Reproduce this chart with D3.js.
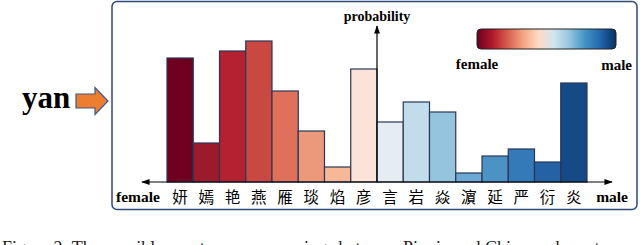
<!DOCTYPE html>
<html>
<head>
<meta charset="utf-8">
<script src="https://cdn.jsdelivr.net/npm/d3@7"></script>
<style>
  body { margin: 0; background: #fff; }
  svg { display: block; }
  .serif { font-family: "Liberation Serif", "DejaVu Serif", serif; }
  .cjk { font-family: "Noto Sans CJK SC", sans-serif; }
</style>
</head>
<body>
<div id="chart"></div>
<script>
// characters for pinyin "yan", female -> male
var chars = ["妍","嫣","艳","燕","雁","琰","焰","彦","言","岩","焱","濵","延","严","衍","炎"];
var probs = [124, 39, 131, 141, 91, 51, 15, 113, 60, 80, 70, 9, 26, 33, 20, 99];
var colors = ["#6f0020","#9b1b2d","#b52131","#c94842","#e0705a","#ec987a","#f6b896","#fce3d7",
              "#e6edf2","#c1dcea","#94c4de","#6ba9d2","#4c93c5","#3479b8","#2462a5","#144a86"];
var legendStops = ["#67001f","#b2182b","#d6604d","#f4a582","#fddbc7","#d1e5f0","#92c5de","#4393c3","#2166ac","#053061"];

var W = 640, H = 245;
var svg = d3.select("#chart").append("svg").attr("width", W).attr("height", H);

var defs = svg.append("defs");
var marker = function(id){
  defs.append("marker").attr("id", id).attr("viewBox","0 0 10 10").attr("refX",9).attr("refY",5)
    .attr("markerWidth",7).attr("markerHeight",7).attr("orient","auto-start-reverse")
    .append("path").attr("d","M0,1.5 L10,5 L0,8.5 Z").attr("fill","#000");
};
marker("arr");

// frame
svg.append("rect").attr("x",112).attr("y",1.5).attr("width",525).attr("height",208)
  .attr("rx",5).attr("fill","none").attr("stroke","#2c4a78").attr("stroke-width",1.5);

var baseY = 182;
var x = d3.scaleBand().domain(chars).range([167, 587]).padding(0);
var y = d3.scaleLinear().domain([0, 150]).range([baseY, baseY - 150]);

svg.append("g").selectAll("rect").data(chars).enter().append("rect")
  .attr("x", function(d){ return x(d); })
  .attr("y", function(d, i){ return y(probs[i]); })
  .attr("width", x.bandwidth())
  .attr("height", function(d, i){ return baseY - y(probs[i]); })
  .attr("fill", function(d, i){ return colors[i]; })
  .attr("stroke", "#2b3656").attr("stroke-width", 1.2);

// x axis (two-headed)
svg.append("line").attr("x1",142).attr("x2",612).attr("y1",baseY).attr("y2",baseY)
  .attr("stroke","#000").attr("stroke-width",1.2)
  .attr("marker-start","url(#arr)").attr("marker-end","url(#arr)");

// y axis between 彦 and 言
var yAxisX = x("言");
svg.append("line").attr("x1",yAxisX).attr("x2",yAxisX).attr("y1",baseY).attr("y2",26)
  .attr("stroke","#000").attr("stroke-width",1.2).attr("marker-end","url(#arr)");
svg.append("text").attr("class","serif").attr("x",yAxisX).attr("y",21)
  .attr("text-anchor","middle").attr("font-size",14).attr("font-weight","bold").text("probability");

// character labels
svg.append("g").selectAll("text").data(chars).enter().append("text")
  .attr("class","cjk")
  .attr("x", function(d){ return x(d) + x.bandwidth()/2; })
  .attr("y", 203).attr("text-anchor","middle").attr("font-size",15.5)
  .text(function(d){ return d; });

svg.append("text").attr("class","serif").attr("x",116).attr("y",202)
  .attr("font-size",15.5).attr("font-weight","bold").text("female");
svg.append("text").attr("class","serif").attr("x",628).attr("y",202).attr("text-anchor","end")
  .attr("font-size",15.5).attr("font-weight","bold").text("male");

// legend colour bar
var grad = defs.append("linearGradient").attr("id","rdbu");
grad.selectAll("stop").data(legendStops).enter().append("stop")
  .attr("offset", function(d, i){ return (i / (legendStops.length - 1) * 100) + "%"; })
  .attr("stop-color", function(d){ return d; });
svg.append("rect").attr("x",477).attr("y",29).attr("width",139).attr("height",20).attr("rx",4)
  .attr("fill","url(#rdbu)").attr("stroke","#222").attr("stroke-width",1);
svg.append("text").attr("class","serif").attr("x",477).attr("y",69).attr("text-anchor","middle")
  .attr("font-size",15).attr("font-weight","bold").text("female");
svg.append("text").attr("class","serif").attr("x",632).attr("y",70).attr("text-anchor","end")
  .attr("font-size",15).attr("font-weight","bold").text("male");

// "yan" with orange arrow
svg.append("text").attr("class","serif").attr("x",22).attr("y",108)
  .attr("font-size",31).attr("font-weight","bold").text("yan");
svg.append("path").attr("d","M76,94 L95,94 L95,87.5 L108,101 L95,114.5 L95,108 L76,108 Z")
  .attr("fill","#ed7d31").attr("stroke","#3b5a8a").attr("stroke-width",1.2);

// caption (cut off at bottom, as in the source figure)
svg.append("text").attr("class","serif").attr("x",2).attr("y",254)
  .attr("font-size",18).attr("fill","#222")
  .text("Figure 2: The possible one-to-many mappings between Pinyin and Chinese characters.");
</script>
</body>
</html>
